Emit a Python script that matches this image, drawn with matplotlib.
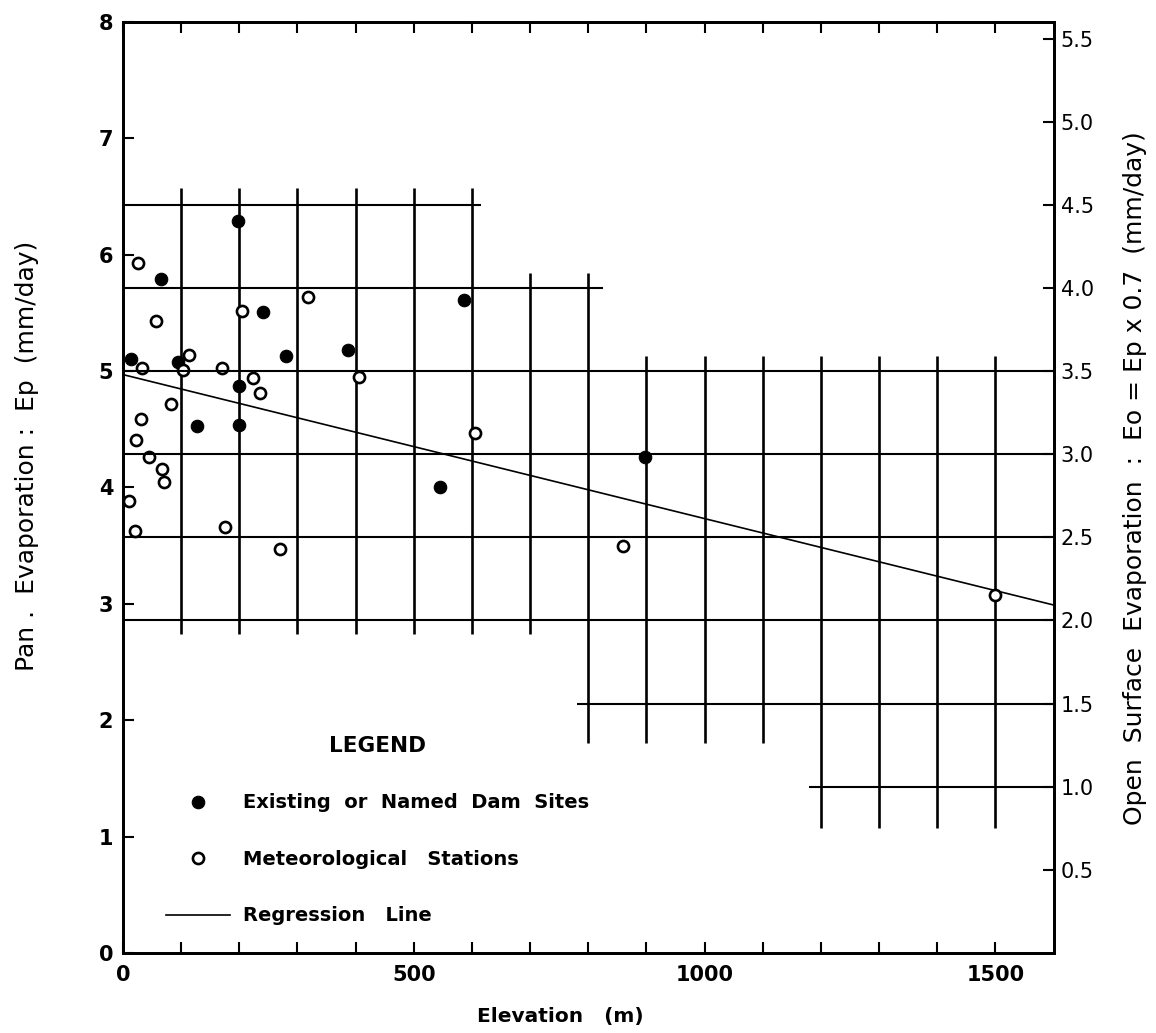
import matplotlib
matplotlib.use("Agg")
import matplotlib.pyplot as plt

# ---------------- data ----------------
dam_elev = [197, 65, 240, 13, 95, 280, 386, 199, 127, 200, 586, 545, 898]
dam_ep = [6.29, 5.79, 5.51, 5.10, 5.08, 5.13, 5.18, 4.87, 4.53, 4.54, 5.61, 4.00, 4.26]

met_elev = [26, 57, 318, 204, 113, 33, 103, 170, 223, 236, 406, 83, 31, 23,
            45, 67, 70, 10, 21, 176, 270, 605, 860, 1500]
met_ep = [5.93, 5.43, 5.64, 5.52, 5.14, 5.03, 5.01, 5.03, 4.94, 4.81, 4.95, 4.72,
          4.59, 4.41, 4.26, 4.16, 4.05, 3.88, 3.63, 3.66, 3.47, 4.47, 3.50, 3.08]

reg_elev = [0, 1600]
reg_ep = [4.97, 2.99]

# staircase grid of the original graph paper
hgrid_eo = [4.5, 4.0, 3.5, 3.0, 2.5, 2.0, 1.5, 1.0]
hgrid_x0 = [0, 0, 0, 0, 0, 0, 780, 1180]
hgrid_x1 = [615, 825, 1600, 1600, 1600, 1600, 1600, 1600]

vgrid_x = [100, 200, 300, 400, 500, 600, 700, 800, 900, 1000, 1100, 1200, 1300, 1400, 1500]
vgrid_bottom = [2.74, 2.74, 2.74, 2.74, 2.74, 2.74, 2.74, 1.80, 1.80, 1.80, 1.80, 1.07, 1.07, 1.07, 1.07]
vgrid_top = [6.57, 6.57, 6.57, 6.57, 6.57, 6.57, 5.84, 5.84, 5.13, 5.13, 5.13, 5.13, 5.13, 5.13, 5.13]

x_major = [0, 500, 1000, 1500]
x_minor = list(range(100, 1600, 100))
y_left_ticks = [0, 1, 2, 3, 4, 5, 6, 7, 8]
y_right_ticks = [0.5, 1.0, 1.5, 2.0, 2.5, 3.0, 3.5, 4.0, 4.5, 5.0, 5.5]
eo_factor = 0.7

# ---------------- figure ----------------
fig = plt.figure(figsize=(11.56, 10.33), dpi=100)
ax = fig.add_axes([0.1064, 0.0775, 0.8050, 0.9012])
ax.set_xlim(0, 1600)
ax.set_ylim(0, 8)
ax2 = ax.twinx()
ax2.set_ylim(0, 8 * eo_factor)

ink = "black"

# grid
for x, b, t in zip(vgrid_x, vgrid_bottom, vgrid_top):
    ax.plot([x, x], [b, t], color=ink, lw=1.9, solid_capstyle="butt", zorder=1)
for e, x0, x1 in zip(hgrid_eo, hgrid_x0, hgrid_x1):
    ax2.plot([x0, x1], [e, e], color=ink, lw=1.5, solid_capstyle="butt", zorder=1)

# regression line
reg_line, = ax.plot(reg_elev, reg_ep, color=ink, lw=1.2, zorder=2)

# points
dam, = ax.plot(dam_elev, dam_ep, "o", ms=9, mfc=ink, mec=ink, mew=0.8, zorder=3)
met, = ax.plot(met_elev, met_ep, "o", ms=8, mfc="white", mec=ink, mew=1.9, zorder=3)

# axes styling
for sp in list(ax.spines.values()) + list(ax2.spines.values()):
    sp.set_linewidth(2)

ax.set_xticks(x_major)
ax.set_xticks(x_minor, minor=True)
ax.set_yticks(y_left_ticks)
ax.tick_params(axis="x", which="both", direction="in", top=True, bottom=True,
               length=8, width=1.5, pad=9)
ax.tick_params(axis="y", which="both", direction="in", left=True, right=False,
               length=8, width=1.5, pad=7)
ax.set_xticklabels([str(v) for v in x_major], fontsize=15, fontweight="bold")
ax.set_yticklabels([str(v) for v in y_left_ticks], fontsize=15, fontweight="bold")

ax2.set_yticks(y_right_ticks)
ax2.set_yticklabels([f"{v:.1f}" for v in y_right_ticks], fontsize=15)
ax2.tick_params(axis="y", direction="in", length=8, width=1.5, pad=5)

ax.set_xlabel("Elevation   (m)", fontsize=14.5, fontweight="bold")
ax.xaxis.set_label_coords(0.47, -0.058)
ax.set_ylabel("Pan .  Evaporation :  Ep  (mm/day)", fontsize=18)
ax.yaxis.set_label_coords(-0.090, 0.534)
ax2.set_ylabel("Open  Surface  Evaporation  :  Eo = Ep x 0.7  (mm/day)", fontsize=18)
ax2.yaxis.set_label_coords(1.075, 0.51)

# legend
leg = ax.legend([dam, met, reg_line],
                ["Existing  or  Named  Dam  Sites", "Meteorological   Stations", "Regression   Line"],
                title="LEGEND", loc="upper left", bbox_to_anchor=(0.027, 0.252),
                frameon=False, handlelength=3.3, handletextpad=0.7, labelspacing=1.93,
                prop={"size": 14, "weight": "bold"},
                title_fontproperties={"size": 15.5, "weight": "bold"})

fig.savefig("out.png", dpi=100)
